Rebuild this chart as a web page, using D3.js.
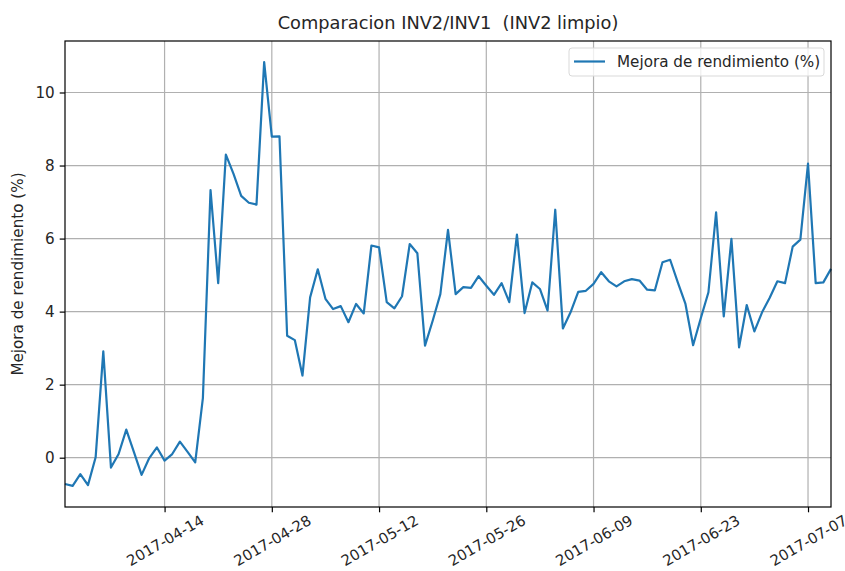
<!DOCTYPE html>
<html lang="es">
<head>
<meta charset="UTF-8">
<title>Comparacion INV2/INV1</title>
<script src="https://d3js.org/d3.v7.min.js"></script>
<style>
body{
    margin: 0;
    background: #fff;
}
svg{
    display: block;
}
text{
    font-family: "DejaVu Sans", sans-serif;
    fill: #262626;
}
.grid line{
    stroke: #b0b0b0;
    stroke-width: 1.2;
}
.tick line{
    stroke: #000;
    stroke-width: 1.2;
}
.domain{
    display: none;
}
.serie{
    fill: none;
    stroke: #1f77b4;
    stroke-width: 2.2;
    stroke-linejoin: round;
}
</style>
</head>
<body>
<svg id="chart" width="845" height="571"></svg>
<script>
// dias consecutivos desde 2017-04-01
const startDate = "2017-04-01"
const mejora = [
    -0.72, -0.77, -0.45, -0.75, 0.01, 2.91, -0.27, 0.10, 0.77, 0.15,
    -0.47, -0.01, 0.28, -0.08, 0.10, 0.44, 0.16, -0.13, 1.63, 7.33,
    4.78, 8.30, 7.77, 7.17, 6.98, 6.93, 10.83, 8.79, 8.80, 3.34,
    3.22, 2.25, 4.39, 5.16, 4.35, 4.07, 4.15, 3.71, 4.21, 3.95,
    5.81, 5.76, 4.26, 4.09, 4.42, 5.85, 5.60, 3.07, 3.75, 4.48,
    6.24, 4.48, 4.67, 4.65, 4.97, 4.71, 4.46, 4.78, 4.26, 6.11,
    3.96, 4.80, 4.62, 4.03, 6.79, 3.54, 3.98, 4.54, 4.57, 4.76,
    5.08, 4.83, 4.69, 4.83, 4.89, 4.85, 4.60, 4.58, 5.35, 5.42,
    4.80, 4.21, 3.08, 3.82, 4.53, 6.72, 3.87, 5.99, 3.02, 4.18,
    3.46, 3.98, 4.38, 4.83, 4.78, 5.78, 5.97, 8.05, 4.78, 4.80,
    5.17
]
const xTickLabels = ["2017-04-14", "2017-04-28", "2017-05-12", "2017-05-26", "2017-06-09", "2017-06-23", "2017-07-07"]
const yTicks = [0, 2, 4, 6, 8, 10]

const parse = d3.utcParse("%Y-%m-%d")
const fmt = d3.utcFormat("%Y-%m-%d")
const t0 = parse(startDate)
const data = mejora.map((v, i) => ({date: d3.utcDay.offset(t0, i), value: v}))

const margin = {left: 65, right: 14, top: 41, bottom: 64}
const width = 845, height = 571
const svg = d3.select("#chart")

const x = d3.scaleUtc()
    .domain(d3.extent(data, d => d.date))
    .range([margin.left, width - margin.right])

// margen del 5% como matplotlib
const [lo, hi] = d3.extent(mejora)
const pad = (hi - lo) * 0.05
const y = d3.scaleLinear()
    .domain([lo - pad, hi + pad])
    .range([height - margin.bottom, margin.top])

const xTicks = xTickLabels.map(parse)
const tickLen = 5.3

// rejilla
const grid = svg.append("g").attr("class", "grid")
grid.selectAll(".gx").data(xTicks).join("line")
    .attr("x1", d => x(d)).attr("x2", d => x(d))
    .attr("y1", y.range()[1]).attr("y2", y.range()[0])
grid.selectAll(".gy").data(yTicks).join("line")
    .attr("x1", x.range()[0]).attr("x2", x.range()[1])
    .attr("y1", d => y(d)).attr("y2", d => y(d))

// ejes
const xAxis = svg.append("g")
    .attr("transform", `translate(0,${height - margin.bottom})`)
    .call(d3.axisBottom(x).tickValues(xTicks).tickSize(tickLen).tickFormat(""))

// etiquetas rotadas 30 grados, centradas en el tick
const fontSize = 15.2
const xFont = 14.8
xAxis.selectAll(".tick").append("text")
    .text(d => fmt(d))
    .attr("text-anchor", "middle")
    .attr("dominant-baseline", "central")
    .style("font-size", xFont + "px")
    .each(function(){
        const w = this.getComputedTextLength()
        const glyphH = xFont * 0.73
        const boxH = w * Math.sin(Math.PI / 6) + glyphH * Math.cos(Math.PI / 6)
        const cy = 7 + boxH / 2
        d3.select(this).attr("transform", `translate(0,${cy}) rotate(-30)`)
    })

svg.append("g")
    .attr("transform", `translate(${margin.left},0)`)
    .call(d3.axisLeft(y).tickValues(yTicks).tickSize(tickLen).tickPadding(5))
    .selectAll("text")
    .style("font-size", fontSize + "px")
    .attr("fill", "#262626")

// serie
const line = d3.line().x(d => x(d.date)).y(d => y(d.value))
svg.append("path")
    .datum(data)
    .attr("class", "serie")
    .attr("d", line)

// marco
svg.append("rect")
    .attr("x", margin.left).attr("y", margin.top)
    .attr("width", width - margin.left - margin.right)
    .attr("height", height - margin.top - margin.bottom)
    .attr("fill", "none")
    .attr("stroke", "#000")
    .attr("stroke-width", 1.2)

// titulo y etiqueta y
svg.append("text")
    .attr("x", (x.range()[0] + x.range()[1]) / 2)
    .attr("y", 29)
    .attr("text-anchor", "middle")
    .style("font-size", "17.8px")
    .style("white-space", "pre")
    .text("Comparacion INV2/INV1  (INV2 limpio)")

svg.append("text")
    .attr("transform", `translate(23,${(y.range()[0] + y.range()[1]) / 2}) rotate(-90)`)
    .attr("text-anchor", "middle")
    .style("font-size", fontSize + "px")
    .text("Mejora de rendimiento (%)")

// leyenda
const legend = svg.append("g").attr("transform", `translate(${x.range()[1] - 262},${margin.top + 7})`)
legend.append("rect")
    .attr("width", 255).attr("height", 28).attr("rx", 3)
    .attr("fill", "#fff").attr("fill-opacity", 0.8)
    .attr("stroke", "#d9d9d9").attr("stroke-width", 1)
legend.append("line")
    .attr("x1", 5).attr("x2", 36).attr("y1", 13.5).attr("y2", 13.5)
    .attr("stroke", "#1f77b4").attr("stroke-width", 2.2)
legend.append("text")
    .attr("x", 48).attr("y", 19)
    .style("font-size", fontSize + "px")
    .text("Mejora de rendimiento (%)")
</script>
</body>
</html>
